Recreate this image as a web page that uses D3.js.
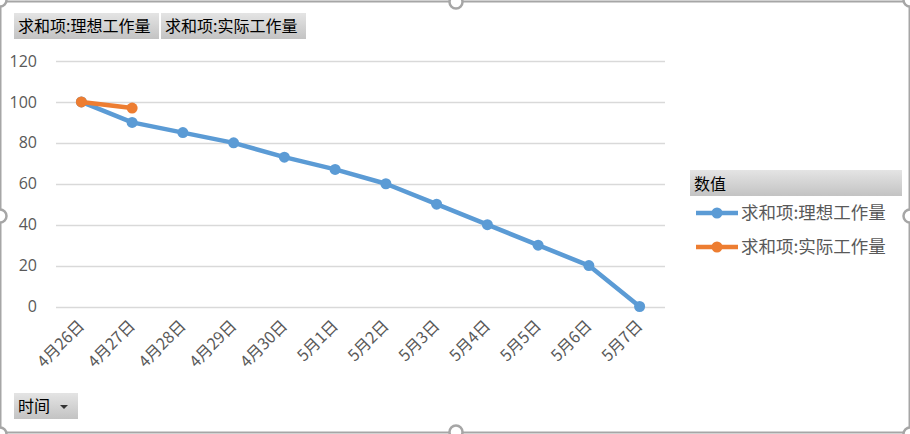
<!DOCTYPE html>
<html>
<head>
<meta charset="utf-8">
<script src="https://cdn.jsdelivr.net/npm/d3@7"></script>
<style>
  body { margin: 0; background: #fff; }
  text { font-family: "Noto Sans CJK SC", "Noto Sans", sans-serif; }
</style>
</head>
<body>
<div id="chart"></div>
<script>
// chart data
var dates = ["4月26日", "4月27日", "4月28日", "4月29日", "4月30日", "5月1日", "5月2日", "5月3日", "5月4日", "5月5日", "5月6日", "5月7日"];
var idealWork = [100, 90, 85, 80, 73, 67, 60, 50, 40, 30, 20, 0];
var actualWork = [100, 97];
var seriesNames = ["求和项:理想工作量", "求和项:实际工作量"];
var yTicks = [0, 20, 40, 60, 80, 100, 120];

var W = 910, H = 434;
var margin = {top: 61, right: 245, bottom: 128, left: 56};
var width = W - margin.left - margin.right,
    height = H - margin.top - margin.bottom;

var colors = ["#5b9bd5", "#ed7d31"];

var svg = d3.select("#chart").append("svg")
    .attr("width", W)
    .attr("height", H);

var defs = svg.append("defs");
var grad = defs.append("linearGradient")
    .attr("id", "btnGrad")
    .attr("x1", 0).attr("y1", 0).attr("x2", 0).attr("y2", 1);
grad.append("stop").attr("offset", "0%").attr("stop-color", "#e4e4e4");
grad.append("stop").attr("offset", "100%").attr("stop-color", "#c3c3c3");

var g = svg.append("g")
    .attr("transform", "translate(" + margin.left + "," + margin.top + ")");

var xScale = d3.scaleBand()
    .domain(dates)
    .range([0, width]);

var yScale = d3.scaleLinear()
    .domain([0, 120])
    .range([height + 0.5, 0]);

// gridlines
g.append("g")
  .attr("class", "grid")
  .selectAll("line")
  .data(yTicks)
  .enter().append("line")
    .attr("x1", 0)
    .attr("x2", width)
    .attr("y1", function(d) { return Math.round(yScale(d)) + 0.5; })
    .attr("y2", function(d) { return Math.round(yScale(d)) + 0.5; })
    .attr("stroke", "#d9d9d9")
    .attr("stroke-width", 1.5);

// y axis labels
var yAxis = d3.axisLeft(yScale)
    .tickValues(yTicks)
    .tickSize(0)
    .tickPadding(19);

g.append("g")
  .attr("class", "y axis")
  .call(yAxis)
  .call(function(sel) {
    sel.select(".domain").remove();
    sel.selectAll("text")
      .attr("fill", "#595959")
      .style("font-size", "16px")
      .style("font-family", "'Open Sans', 'Noto Sans', sans-serif");
  });

// x axis labels, rotated
var xAxis = d3.axisBottom(xScale)
    .tickSize(0)
    .tickPadding(0);

g.append("g")
  .attr("class", "x axis")
  .attr("transform", "translate(0," + height + ")")
  .call(xAxis)
  .call(function(sel) {
    sel.select(".domain").remove();
    sel.selectAll("text")
      .attr("fill", "#595959")
      .style("font-size", "16px")
      .attr("text-anchor", "end")
      .attr("dy", "0.35em")
      .attr("transform", "translate(0,17) rotate(-45)");
  });

// lines
var line = d3.line()
    .x(function(d, i) { return xScale(dates[i]) + xScale.bandwidth() / 2; })
    .y(function(d) { return yScale(d); });

[idealWork, actualWork].forEach(function(vals, k) {
  g.append("path")
    .datum(vals)
    .attr("fill", "none")
    .attr("stroke", colors[k])
    .attr("stroke-width", 4.5)
    .attr("stroke-linejoin", "round")
    .attr("d", line);

  g.selectAll(".dot" + k)
    .data(vals)
    .enter().append("circle")
      .attr("class", "dot" + k)
      .attr("cx", function(d, i) { return xScale(dates[i]) + xScale.bandwidth() / 2; })
      .attr("cy", function(d) { return yScale(d); })
      .attr("r", 5.5)
      .attr("fill", colors[k]);
});

// field buttons
function fieldButton(x, y, w, label, arrow) {
  var b = svg.append("g").attr("transform", "translate(" + x + "," + y + ")");
  b.append("rect")
    .attr("width", w)
    .attr("height", 26)
    .attr("fill", "url(#btnGrad)");
  b.append("text")
    .attr("x", 4)
    .attr("y", 19)
    .attr("fill", "#000")
    .style("font-size", "16px")
    .text(label);
  if (arrow) {
    b.append("path")
      .attr("d", "M" + (w - 18) + ",12 l8,0 l-4,4 z")
      .attr("fill", "#333");
  }
}
fieldButton(14, 13, 145, seriesNames[0]);
fieldButton(161, 13, 145, seriesNames[1]);
fieldButton(14, 393, 64, "时间", true);

// legend
var legend = svg.append("g").attr("transform", "translate(690,170)");
legend.append("rect")
  .attr("width", 212)
  .attr("height", 26)
  .attr("fill", "url(#btnGrad)");
legend.append("text")
  .attr("x", 4)
  .attr("y", 20)
  .attr("fill", "#000")
  .style("font-size", "16px")
  .text("数值");

seriesNames.forEach(function(name, k) {
  var ly = 43 + k * 34;
  var item = legend.append("g").attr("transform", "translate(0," + ly + ")");
  item.append("line")
    .attr("x1", 6).attr("x2", 48)
    .attr("y1", 0).attr("y2", 0)
    .attr("stroke", colors[k])
    .attr("stroke-width", 4.5);
  item.append("circle")
    .attr("cx", 27).attr("cy", 0).attr("r", 5.5)
    .attr("fill", colors[k]);
  item.append("text")
    .attr("x", 51)
    .attr("y", 6)
    .attr("fill", "#595959")
    .style("font-size", "17.5px")
    .text(name);
});

// selection frame with handles
var frame = svg.append("g");
frame.append("rect")
  .attr("x", 0.5).attr("y", 1.5)
  .attr("width", W - 1).attr("height", H - 3)
  .attr("fill", "none")
  .attr("stroke", "#a6a6a6")
  .attr("stroke-width", 2);

var handles = [[0, 0], [456, 2], [W, 0], [0, 216], [W, 216], [0, H], [456, 432], [W, H]];
frame.selectAll("circle")
  .data(handles)
  .enter().append("circle")
    .attr("cx", function(d) { return d[0]; })
    .attr("cy", function(d) { return d[1]; })
    .attr("r", 6.5)
    .attr("fill", "#fff")
    .attr("stroke", "#a6a6a6")
    .attr("stroke-width", 2.5);
</script>
</body>
</html>
